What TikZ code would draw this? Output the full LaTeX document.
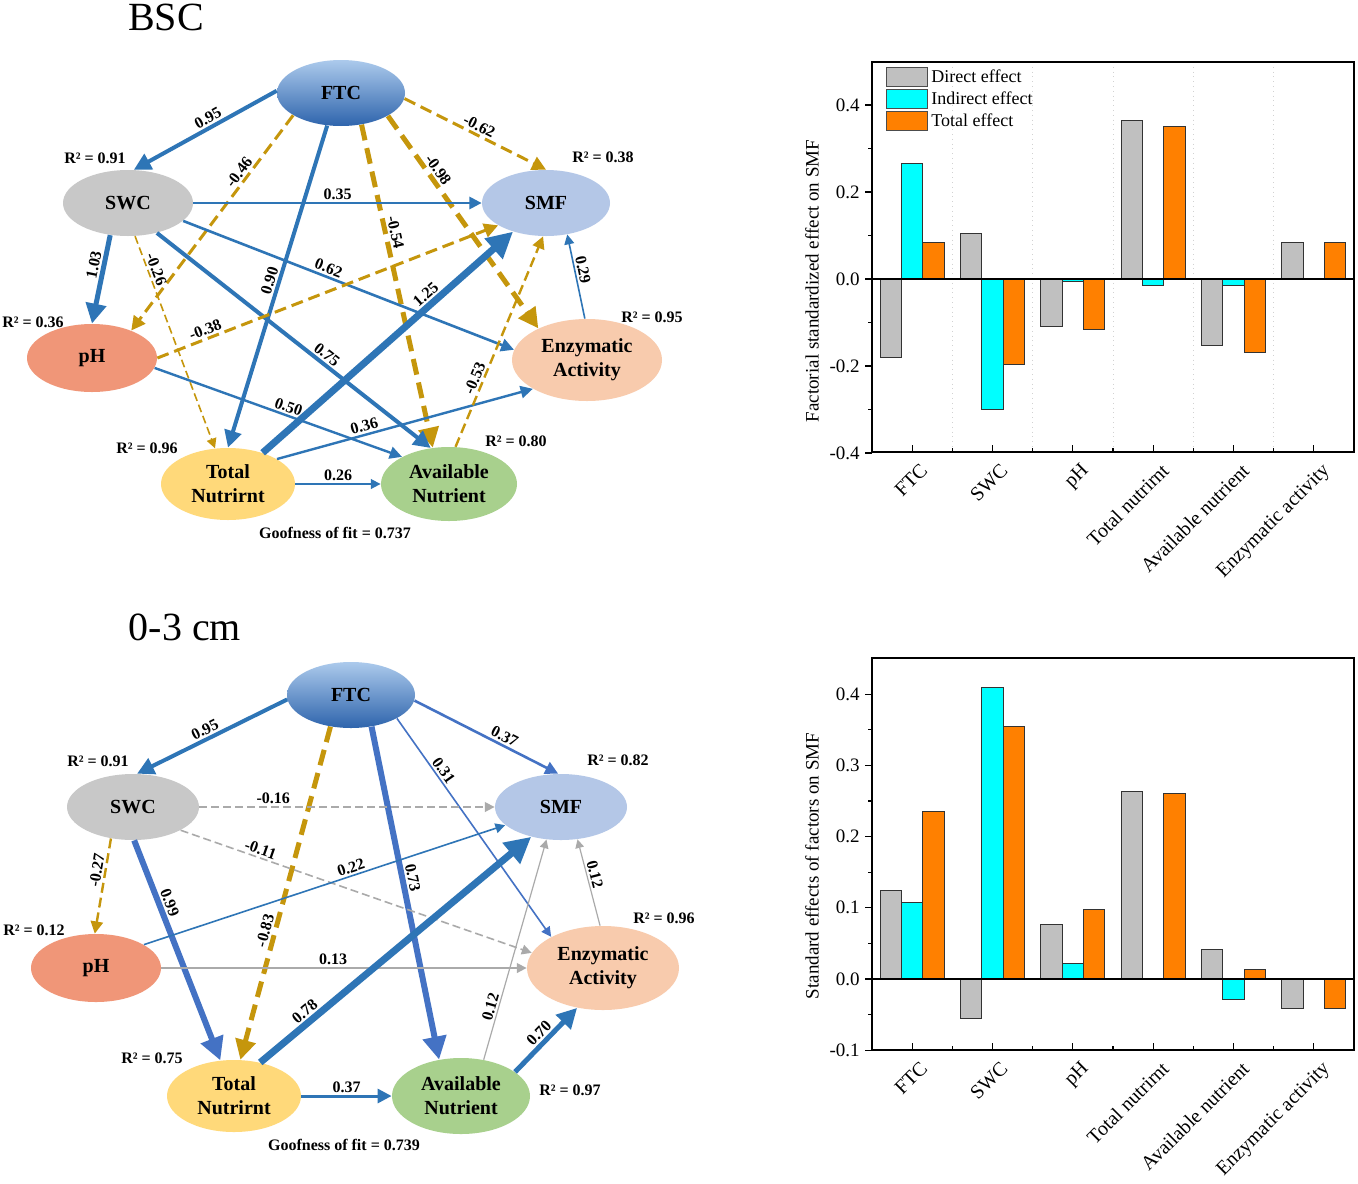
\documentclass[tikz,border=0pt]{standalone}
\usepackage{fontspec}
\setmainfont{Liberation Serif}
\usetikzlibrary{shapes.geometric,arrows.meta}
\tikzset{
  fac/.style={ellipse,inner sep=0pt,align=center,font=\fontsize{10}{12}\selectfont\bfseries},
  ftcshade/.style={top color=ftcTop,bottom color=ftcBot},
  lbl/.style={font=\fontsize{8}{9}\selectfont\bfseries,inner sep=1pt,sloped,above},
  rsq/.style={font=\fontsize{8}{9}\selectfont\bfseries,inner sep=0pt},
  ttl/.style={font=\fontsize{20}{24}\selectfont,anchor=base,inner sep=0pt},
  blu/.style={draw=edgeBlue,-{Triangle[length=2.5pt 3,width=2.5pt 3]}},
  bluB/.style={draw=edgeBlueB,-{Triangle[length=2.5pt 3,width=2.5pt 3]}},
  gld/.style={draw=edgeGold,-{Triangle[length=2.5pt 3,width=2.5pt 3]}},
  gry/.style={draw=edgeGray,-{Triangle[length=2.5pt 3,width=2.5pt 3]}},
  tkl/.style={font=\fontsize{9.5}{11}\selectfont,anchor=east,inner sep=1pt},
  xtl/.style={font=\fontsize{10}{12}\selectfont,rotate=45,anchor=north east,inner sep=1pt},
  lgd/.style={font=\fontsize{9}{11}\selectfont,anchor=west,inner sep=1pt},
  axl/.style={font=\fontsize{9.5}{11}\selectfont,rotate=90,inner sep=0pt}
}
\begin{document}
\begin{tikzpicture}[x=0.5pt,y=-0.5pt]
\definecolor{ftcTop}{RGB}{172,202,236}
\definecolor{ftcBot}{RGB}{46,100,172}
\definecolor{swcFill}{RGB}{200,200,200}
\definecolor{smfFill}{RGB}{180,199,231}
\definecolor{phFill}{RGB}{240,150,120}
\definecolor{enzFill}{RGB}{248,203,173}
\definecolor{tnFill}{RGB}{255,217,122}
\definecolor{anFill}{RGB}{168,208,141}
\definecolor{edgeBlue}{RGB}{46,117,182}
\definecolor{edgeBlueB}{RGB}{68,114,196}
\definecolor{edgeGold}{RGB}{197,150,12}
\definecolor{edgeGray}{RGB}{170,170,170}
\definecolor{barGray}{RGB}{192,192,192}
\definecolor{barCyan}{RGB}{0,255,255}
\definecolor{barOrange}{RGB}{255,128,0}
\path[use as bounding box,fill=white] (0,0) rectangle (1358,1183);

% BSC path model
\node[ttl] (ttlA) at (166,30) {BSC};
\node[fac,ftcshade,minimum width=64pt,minimum height=33pt] (ftcA) at (341,93) {FTC};
\node[fac,fill=swcFill,minimum width=65pt,minimum height=33pt] (swcA) at (128,203) {SWC};
\node[fac,fill=smfFill,minimum width=64pt,minimum height=33pt] (smfA) at (546,203) {SMF};
\node[fac,fill=phFill,minimum width=65pt,minimum height=34pt] (phA) at (92,358) {pH};
\node[fac,fill=enzFill,minimum width=75pt,minimum height=41pt] (enzA) at (587,360) {Enzymatic\\Activity};
\node[fac,fill=tnFill,minimum width=67pt,minimum height=36pt] (tnA) at (228,484) {Total\\Nutrirnt};
\node[fac,fill=anFill,minimum width=68pt,minimum height=37pt] (anA) at (449,484) {Available\\Nutrient};

\node[rsq] (rswcA) at (95,158) {R² = 0.91};
\node[rsq] (rsmfA) at (603,157) {R² = 0.38};
\node[rsq] (rphA) at (33,322) {R² = 0.36};
\node[rsq] (renzA) at (652,317) {R² = 0.95};
\node[rsq] (rtnA) at (147,448) {R² = 0.96};
\node[rsq] (ranA) at (516,441) {R² = 0.80};
\node[rsq] (gofA) at (335,533) {Goofness of fit = 0.737};

\draw[blu,line width=2pt] (ftcA.178) -- node[lbl,pos=0.45] {0.95} (swcA.80);
\draw[gld,line width=1.5pt,dash pattern=on 6pt off 3pt] (ftcA.355) -- node[lbl,pos=0.5] {-0.62} (smfA.90);
\draw[gld,line width=1.5pt,dash pattern=on 6pt off 3pt] (ftcA.205) -- node[lbl,pos=0.29] {-0.46} (phA.35);
\draw[blu,line width=2pt] (ftcA.247) -- node[lbl,pos=0.49] {0.90} (tnA.90);
\draw[gld,line width=2.5pt,dash pattern=on 8pt off 4pt] (ftcA.303) -- node[lbl,pos=0.34] {-0.54} (anA.114);
\draw[gld,line width=2.5pt,dash pattern=on 8pt off 4pt] (ftcA.334) -- node[lbl,pos=0.28] {-0.98} (enzA.147);
\draw[blu,line width=1.2pt] (swcA.east) -- node[lbl,pos=0.5] {0.35} (smfA.west);
\draw[blu,line width=2.5pt] (swcA.241) -- node[lbl,pos=0.36] {1.03} (phA.north);
\draw[gld,line width=0.8pt,dash pattern=on 4pt off 2pt] (swcA.282) -- node[lbl,pos=0.17] {-0.26} (tnA.110);
\draw[blu,line width=2pt] (swcA.314) -- node[lbl,pos=0.6] {0.75} (anA.117);
\draw[blu,line width=1.3pt] (swcA.342) -- node[lbl,pos=0.43] {0.62} (enzA.172);
\draw[gld,line width=1.5pt,dash pattern=on 6pt off 3pt] (phA.east) -- node[lbl,pos=0.15] {-0.38} (smfA.205);
\draw[blu,line width=1.2pt] (phA.351) -- node[lbl,pos=0.53] {0.50} (anA.150);
\draw[blu,line width=3.5pt] (tnA.42) -- node[lbl,pos=0.68] {1.25} (smfA.221);
\draw[blu,line width=1.2pt] (tnA.27) -- node[lbl,pos=0.35] {0.36} (enzA.208);
\draw[blu,line width=0.8pt] (tnA.east) -- node[lbl,pos=0.5] {0.26} (anA.west);
\draw[gld,line width=1.2pt,dash pattern=on 5pt off 2.5pt] (anA.80) -- node[lbl,pos=0.31] {-0.53} (smfA.265);
\draw[blu,line width=0.8pt] (enzA.93) -- node[lbl,pos=0.56] {0.29} (smfA.304);

% 0-3 cm path model
\node[ttl] (ttlB) at (185,640) {0-3 cm};
\node[fac,ftcshade,minimum width=64pt,minimum height=33pt] (ftcB) at (351,695) {FTC};
\node[fac,fill=swcFill,minimum width=66pt,minimum height=33pt] (swcB) at (133,807) {SWC};
\node[fac,fill=smfFill,minimum width=66pt,minimum height=33pt] (smfB) at (561,807) {SMF};
\node[fac,fill=phFill,minimum width=65pt,minimum height=34pt] (phB) at (96,968) {pH};
\node[fac,fill=enzFill,minimum width=76pt,minimum height=42pt] (enzB) at (603,968) {Enzymatic\\Activity};
\node[fac,fill=tnFill,minimum width=67pt,minimum height=36pt] (tnB) at (234,1096) {Total\\Nutrirnt};
\node[fac,fill=anFill,minimum width=69pt,minimum height=38pt] (anB) at (461,1096) {Available\\Nutrient};

\node[rsq] (rswcB) at (98,761) {R² = 0.91};
\node[rsq] (rsmfB) at (618,760) {R² = 0.82};
\node[rsq] (rphB) at (34,930) {R² = 0.12};
\node[rsq] (renzB) at (664,918) {R² = 0.96};
\node[rsq] (rtnB) at (152,1058) {R² = 0.75};
\node[rsq] (ranB) at (570,1090) {R² = 0.97};
\node[rsq] (gofB) at (344,1145) {Goofness of fit = 0.739};

\draw[blu,line width=2pt] (ftcB.184) -- node[lbl,pos=0.52] {0.95} (swcB.83);
\draw[bluB,line width=1.3pt] (ftcB.355) -- node[lbl,pos=0.6] {0.37} (smfB.95);
\draw[gld,line width=2.5pt,dash pattern=on 8pt off 4pt] (ftcB.237) -- node[lbl,pos=0.62] {-0.83} (tnB.80);
\draw[bluB,line width=3pt] (ftcB.303) -- node[lbl,pos=0.46] {0.73} (anB.121);
\draw[bluB,line width=0.8pt] (ftcB.333) -- node[lbl,pos=0.26] {0.31} (enzB.149);
\draw[gry,line width=0.8pt,dash pattern=on 4pt off 2pt] (swcB.east) -- node[lbl,pos=0.25] {-0.16} (smfB.west);
\draw[gry,line width=0.8pt,dash pattern=on 4pt off 2pt] (swcB.334) -- node[lbl,pos=0.22] {-0.11} (enzB.168);
\draw[gld,line width=1.2pt,dash pattern=on 5pt off 2.5pt] (swcB.235) -- node[lbl,pos=0.35] {-0.27} (phB.92);
\draw[bluB,line width=3pt] (swcB.272) -- node[lbl,pos=0.3] {0.99} (tnB.111);
\draw[blu,line width=0.8pt] (phB.26) -- node[lbl,pos=0.58] {0.22} (smfB.198);
\draw[gry,line width=0.8pt] (phB.east) -- node[lbl,pos=0.47] {0.13} (enzB.west);
\draw[blu,line width=3.5pt] (tnB.52) -- node[lbl,pos=0.19] {0.78} (smfB.225);
\draw[blu,line width=1.5pt] (tnB.east) -- node[lbl,pos=0.5] {0.37} (anB.west);
\draw[gry,line width=0.6pt] (anB.58) -- node[lbl,pos=0.23] {0.12} (smfB.246);
\draw[blu,line width=2.5pt] (anB.24) -- node[lbl,pos=0.5] {0.70} (enzB.237);
\draw[gry,line width=0.6pt] (enzB.94) -- node[lbl,pos=0.57] {0.12} (smfB.297);

% effects on SMF, BSC
\foreach \k in {1,...,5}
  \path[draw=gray!35,dotted] ({872+80.33*\k},62) -- ({872+80.33*\k},452);
\foreach \k/\dv/\iv/\tv in {0/-0.18/0.265/0.085,1/0.104/-0.30/-0.197,2/-0.11/-0.005/-0.115,3/0.364/-0.015/0.35,4/-0.154/-0.016/-0.17,5/0.085/0/0.085}{
  \pgfmathsetmacro{\cx}{872+80.33*(\k+0.5)}
  \path[draw=black!80,line width=0.5pt,fill=barGray] ({\cx-32},279) rectangle ({\cx-10.7},{279-435*\dv});
  \path[draw=black!80,line width=0.5pt,fill=barCyan] ({\cx-10.7},279) rectangle ({\cx+10.7},{279-435*\iv});
  \path[draw=black!80,line width=0.5pt,fill=barOrange] ({\cx+10.7},279) rectangle ({\cx+32},{279-435*\tv});
}
\path[draw=black,line width=0.6pt] (872,279) -- (1354,279);
\path[draw=black,line width=0.8pt] (872,62) rectangle (1354,452);
\foreach \v/\t in {0.4/0.4,0.2/0.2,0/0.0,-0.2/-0.2,-0.4/-0.4}{
  \path[draw=black,line width=0.6pt] (872,{279-435*\v}) -- (865,{279-435*\v});
  \node[tkl] at (862,{279-435*\v}) {\t};
}
\foreach \v in {0.3,0.1,-0.1,-0.3}
  \path[draw=black,line width=0.6pt] (872,{279-435*\v}) -- (868,{279-435*\v});
\foreach \k in {0,...,5}{
  \path[draw=black,line width=0.6pt] ({872+80.33*(\k+0.5)},452) -- ({872+80.33*(\k+0.5)},445);
  \path[draw=black,line width=0.6pt] ({872+80.33*(\k+1)},452) -- ({872+80.33*(\k+1)},448);
}
\foreach \k/\name in {0/FTC,1/SWC,2/pH,3/Total nutrirnt,4/Available nutrient,5/Enzymatic activity}
  \node[xtl] (xa\k) at ({872+80.33*(\k+0.5)+7},459) {\name};
\node[axl] (ylabA) at (812,281) {Factorial standardized effect on SMF};
\path[draw=black!70,line width=0.5pt,fill=barGray] (886,67) rectangle (927,86);
\path[draw=black!70,line width=0.5pt,fill=barCyan] (886,89) rectangle (927,108);
\path[draw=black!70,line width=0.5pt,fill=barOrange] (886,111) rectangle (927,130);
\node[lgd] (lgdDir) at (929,76) {Direct effect};
\node[lgd] (lgdInd) at (929,98) {Indirect effect};
\node[lgd] (lgdTot) at (929,120) {Total effect};

% effects on SMF, 0-3 cm
\foreach \k/\dv/\iv/\tv in {0/0.125/0.108/0.235,1/-0.056/0.409/0.354,2/0.077/0.022/0.098,3/0.263/0/0.261,4/0.041/-0.029/0.013,5/-0.041/0/-0.041}{
  \pgfmathsetmacro{\cx}{872+80.33*(\k+0.5)}
  \path[draw=black!80,line width=0.5pt,fill=barGray] ({\cx-32},979) rectangle ({\cx-10.7},{979-712*\dv});
  \path[draw=black!80,line width=0.5pt,fill=barCyan] ({\cx-10.7},979) rectangle ({\cx+10.7},{979-712*\iv});
  \path[draw=black!80,line width=0.5pt,fill=barOrange] ({\cx+10.7},979) rectangle ({\cx+32},{979-712*\tv});
}
\path[draw=black,line width=0.6pt] (872,979) -- (1354,979);
\path[draw=black,line width=0.8pt] (872,658) rectangle (1354,1050);
\foreach \v/\t in {0.4/0.4,0.3/0.3,0.2/0.2,0.1/0.1,0/0.0,-0.1/-0.1}{
  \path[draw=black,line width=0.6pt] (872,{979-712*\v}) -- (865,{979-712*\v});
  \node[tkl] at (862,{979-712*\v}) {\t};
}
\foreach \v in {0.35,0.25,0.15,0.05,-0.05}
  \path[draw=black,line width=0.6pt] (872,{979-712*\v}) -- (868,{979-712*\v});
\foreach \k in {0,...,5}{
  \path[draw=black,line width=0.6pt] ({872+80.33*(\k+0.5)},1050) -- ({872+80.33*(\k+0.5)},1043);
  \path[draw=black,line width=0.6pt] ({872+80.33*(\k+1)},1050) -- ({872+80.33*(\k+1)},1046);
}
\foreach \k/\name in {0/FTC,1/SWC,2/pH,3/Total nutrirnt,4/Available nutrient,5/Enzymatic activity}
  \node[xtl] (xb\k) at ({872+80.33*(\k+0.5)+7},1057) {\name};
\node[axl] (ylabB) at (812,866) {Standard effects of factors on SMF};
\end{tikzpicture}
\end{document}
